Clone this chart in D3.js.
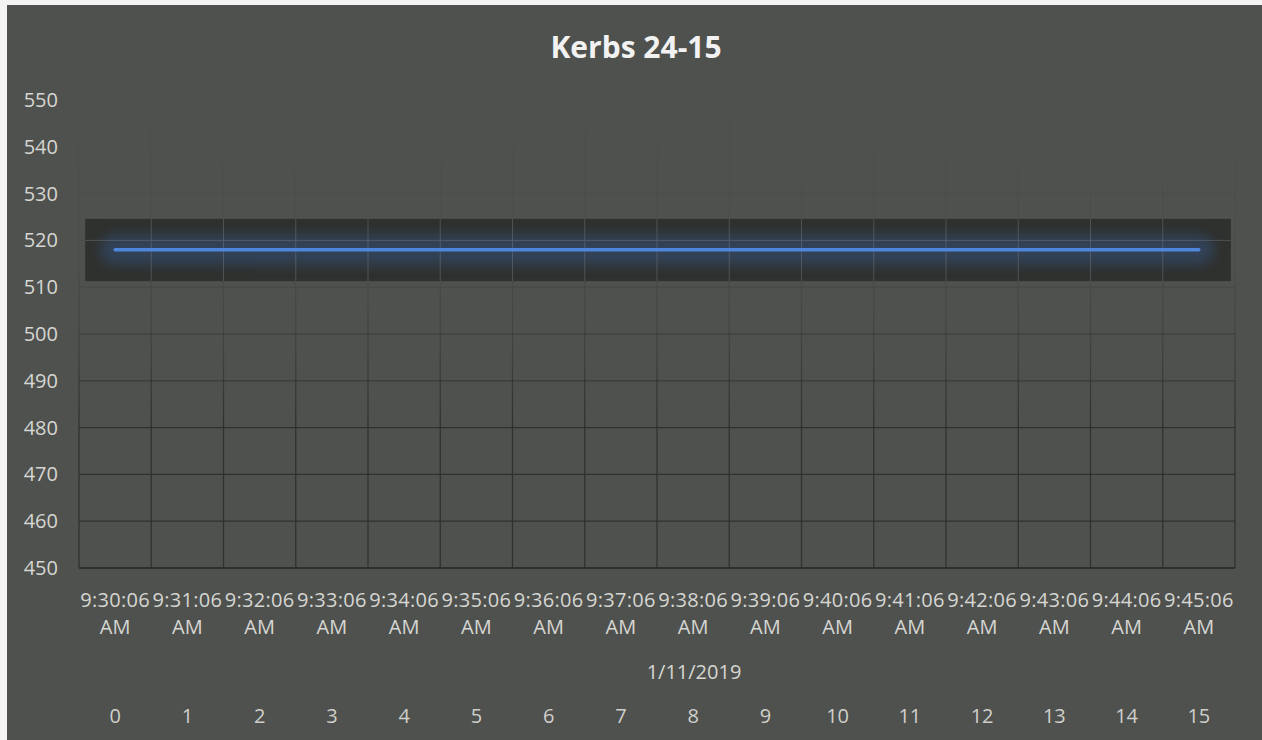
<!DOCTYPE html>
<html>
<head>
<meta charset="utf-8">
<script src="https://cdn.jsdelivr.net/npm/d3@7"></script>
<style>
  html, body { margin: 0; padding: 0; background: #ffffff; }
  svg { display: block; }
  text { font-family: "Open Sans", "Noto Sans", sans-serif; }
</style>
</head>
<body>
<svg id="chart" width="1262" height="740"></svg>
<script>
// ---- data ----
const title = "Kerbs 24-15";
const dateLabel = "1/11/2019";
const timeLabels = ["9:30:06","9:31:06","9:32:06","9:33:06","9:34:06","9:35:06","9:36:06","9:37:06",
                    "9:38:06","9:39:06","9:40:06","9:41:06","9:42:06","9:43:06","9:44:06","9:45:06"];
const indexLabels = ["0","1","2","3","4","5","6","7","8","9","10","11","12","13","14","15"];
const values = [518,518,518,518,518,518,518,518,518,518,518,518,518,518,518,518];
const yTicks = [450,460,470,480,490,500,510,520,530,540,550];
const bandRange = [511.3, 524.6];

// ---- layout ----
const svg = d3.select("#chart");
const W = 1262, H = 740;
const plot = {left: 79, right: 1235, top: 100, bottom: 568};

const x = d3.scaleBand().domain(indexLabels).range([plot.left, plot.right]).padding(0);
const y = d3.scaleLinear().domain([450, 550]).range([plot.bottom, plot.top]);

const defs = svg.append("defs");
const grad = defs.append("linearGradient").attr("id","gridFade")
  .attr("gradientUnits","userSpaceOnUse").attr("x1",0).attr("x2",0)
  .attr("y1", y(550)).attr("y2", y(480));
grad.append("stop").attr("offset","0%").attr("stop-color","#2a2c2a").attr("stop-opacity",0.03);
grad.append("stop").attr("offset","50%").attr("stop-color","#2a2c2a").attr("stop-opacity",0.12);
grad.append("stop").attr("offset","75%").attr("stop-color","#2a2c2a").attr("stop-opacity",0.4);
grad.append("stop").attr("offset","100%").attr("stop-color","#2a2c2a").attr("stop-opacity",0.85);

const blur = defs.append("filter").attr("id","glow").attr("filterUnits","userSpaceOnUse")
  .attr("x", 0).attr("y", 150).attr("width", W).attr("height", 200);
blur.append("feGaussianBlur").attr("stdDeviation", 6);

const clip = defs.append("clipPath").attr("id","bandClip");

// background (page white border + gray scan)
svg.append("rect").attr("x",0).attr("y",0).attr("width",W).attr("height",H).attr("fill","#f4f4f4");
svg.append("rect").attr("x",7).attr("y",5).attr("width",W-7).attr("height",H-5).attr("fill","#4f514e");

// title
svg.append("text").attr("x", 636).attr("y", 58).attr("text-anchor","middle")
  .attr("font-size", 30).attr("font-weight", 700).attr("fill","#f2f2f2").text(title);

// gridlines
const grid = svg.append("g").attr("stroke","url(#gridFade)").attr("stroke-width",1.3).attr("fill","none");
yTicks.forEach(t => {
  grid.append("line").attr("x1", plot.left).attr("x2", plot.right).attr("y1", y(t)).attr("y2", y(t));
});
const vBounds = indexLabels.map(d => x(d)).concat([x(indexLabels[indexLabels.length-1]) + x.bandwidth()]);
vBounds.forEach(v => {
  grid.append("line").attr("x1", v).attr("x2", v).attr("y1", y(550)).attr("y2", y(450));
});
// axis baseline
svg.append("line").attr("x1", plot.left).attr("x2", plot.right).attr("y1", y(450)).attr("y2", y(450))
  .attr("stroke","#2a2c2a").attr("stroke-width",1.5).attr("opacity",0.9);

// dark band (glow region)
const bx0 = x(indexLabels[0]) + x.bandwidth()/2 - 30;
const bx1 = x(indexLabels[indexLabels.length-1]) + x.bandwidth()/2 + 32;
svg.append("rect").attr("x", bx0).attr("y", y(bandRange[1]))
  .attr("width", bx1 - bx0).attr("height", y(bandRange[0]) - y(bandRange[1]))
  .attr("fill", "#2f312e");
clip.append("rect").attr("x", bx0).attr("y", y(bandRange[1]))
  .attr("width", bx1 - bx0).attr("height", y(bandRange[0]) - y(bandRange[1]));

const line = d3.line().x((d,i) => x(indexLabels[i]) + x.bandwidth()/2).y(d => y(d));

// blue glow
svg.append("g").attr("clip-path","url(#bandClip)")
  .append("path").datum(values).attr("d", line)
  .attr("fill","none").attr("stroke","#34517c").attr("stroke-width", 30).attr("opacity", 0.55)
  .attr("stroke-linecap","round").attr("filter","url(#glow)");

// light gridlines inside band
const g2 = svg.append("g").attr("clip-path","url(#bandClip)").attr("stroke","#80848a").attr("stroke-width",1).attr("opacity",0.4);
yTicks.forEach(t => g2.append("line").attr("x1", plot.left).attr("x2", plot.right).attr("y1", y(t)).attr("y2", y(t)));
vBounds.forEach(v => g2.append("line").attr("x1", v).attr("x2", v).attr("y1", y(550)).attr("y2", y(450)));

// series line
svg.append("path").datum(values).attr("d", line)
  .attr("fill","none").attr("stroke","#4d86db").attr("stroke-width", 3.4).attr("stroke-linecap","round");

// y axis labels
svg.append("g").selectAll("text").data(yTicks).join("text")
  .attr("x", 58).attr("y", d => y(d) + 7).attr("text-anchor","end")
  .attr("font-size", 20).attr("fill","#d6d6d2").text(d => d);

// x axis labels
const xl = svg.append("g").attr("fill","#d6d6d2").attr("font-size", 20).attr("text-anchor","middle");
timeLabels.forEach((t,i) => {
  const cx = x(indexLabels[i]) + x.bandwidth()/2;
  xl.append("text").attr("x", cx).attr("y", 607).attr("letter-spacing", 0.3).text(t);
  xl.append("text").attr("x", cx).attr("y", 634).text("AM");
  xl.append("text").attr("x", cx).attr("y", 723).attr("fill","#cfcfca").text(indexLabels[i]);
});
svg.append("text").attr("x", 694).attr("y", 679).attr("text-anchor","middle")
  .attr("font-size", 20).attr("fill","#d6d6d2").text(dateLabel);
</script>
</body>
</html>
